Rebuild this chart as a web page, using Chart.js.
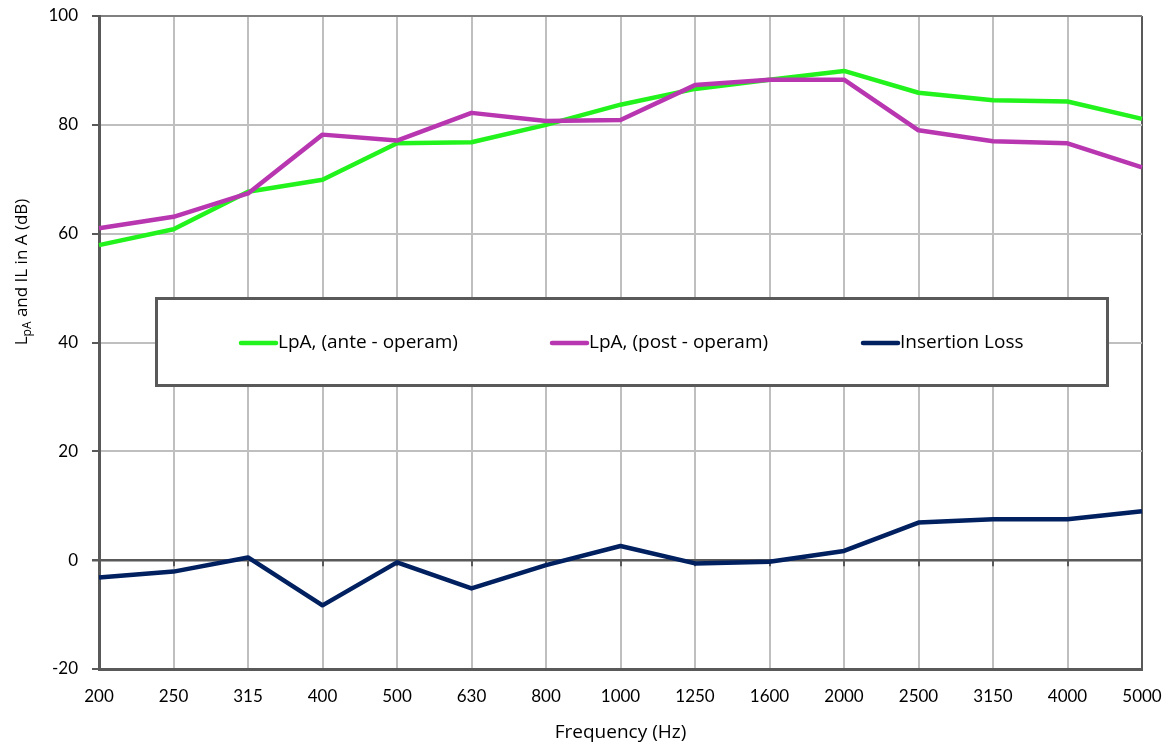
<!DOCTYPE html>
<html>
<head>
<meta charset="utf-8">
<script src="https://cdn.jsdelivr.net/npm/chart.js@4"></script>
<style>
  html, body { margin: 0; padding: 0; background: #fff; }
  #wrap { position: relative; width: 1172px; height: 748px; }
</style>
</head>
<body>
<div id="wrap"><canvas id="chart"></canvas></div>
<script>
// Data
const frequencies = ['200', '250', '315', '400', '500', '630', '800', '1000', '1250', '1600', '2000', '2500', '3150', '4000', '5000'];
const anteOperam = [57.9, 60.8, 67.7, 69.9, 76.6, 76.8, 80.0, 83.7, 86.6, 88.3, 89.9, 85.9, 84.5, 84.3, 81.1];
const postOperam = [61.0, 63.1, 67.4, 78.2, 77.1, 82.2, 80.7, 80.9, 87.3, 88.3, 88.3, 79.0, 77.0, 76.6, 72.2];
const insertionLoss = [-3.2, -2.1, 0.5, -8.3, -0.4, -5.2, -0.9, 2.6, -0.6, -0.3, 1.7, 6.9, 7.5, 7.5, 9.0];
const seriesNames = ['LpA, (ante - operam)', 'LpA, (post - operam)', 'Insertion Loss'];
const yMin = -20, yMax = 100, yStep = 20;

// Colours
const green = '#22F31C';
const magenta = '#B936B1';
const navy = '#002060';
const axisGray = '#595959';
const gridGray = '#BFBFBF';
const tickFont = 'Lato, "Open Sans", sans-serif';
const textFont = '"Open Sans", Lato, sans-serif';

// zero line tick marks, legend box, rotated y title with subscript
const extras = {
    id: 'extras',
    beforeDatasetsDraw(chart) {
        const ctx = chart.ctx;
        const x = chart.scales.x, y = chart.scales.y;
        const y0 = y.getPixelForValue(0);
        ctx.save();
        ctx.strokeStyle = axisGray;
        ctx.lineWidth = 2;
        x.ticks.forEach((t, i) => {
            const px = Math.round(x.getPixelForTick(i));
            ctx.beginPath();
            ctx.moveTo(px, y0);
            ctx.lineTo(px, y0 + 6);
            ctx.stroke();
        });
        ctx.restore();
    },
    afterDatasetsDraw(chart) {
        const ctx = chart.ctx;
        ctx.save();
        // legend box
        ctx.fillStyle = '#fff';
        ctx.fillRect(156, 298, 951, 87);
        ctx.strokeStyle = axisGray;
        ctx.lineWidth = 3;
        ctx.strokeRect(156.5, 298.5, 951, 87);
        const cy = 343;
        chart.data.datasets.forEach((ds, i) => {
            const x0 = 241 + i * 311;
            ctx.strokeStyle = ds.borderColor;
            ctx.lineWidth = 4.5;
            ctx.lineCap = 'round';
            ctx.beginPath();
            ctx.moveTo(x0, cy);
            ctx.lineTo(x0 + 35, cy);
            ctx.stroke();
            ctx.fillStyle = '#000';
            ctx.font = '19px ' + textFont;
            ctx.textAlign = 'left';
            ctx.textBaseline = 'middle';
            ctx.fillText(ds.label, x0 + 37, cy);
        });
        ctx.restore();
    },
    afterDraw(chart) {
        const ctx = chart.ctx;
        ctx.save();
        const big = '17px ' + textFont;
        const small = '12px ' + textFont;
        ctx.font = big;
        const wL = ctx.measureText('L').width;
        const rest = ' and IL in A (dB)';
        const wRest = ctx.measureText(rest).width;
        ctx.font = small;
        const wSub = ctx.measureText('pA').width;
        const total = wL + wSub + wRest;
        ctx.translate(27, 272 + total / 2);
        ctx.rotate(-Math.PI / 2);
        ctx.fillStyle = '#000';
        ctx.textAlign = 'left';
        ctx.textBaseline = 'alphabetic';
        ctx.font = big;
        ctx.fillText('L', 0, 0);
        ctx.font = small;
        ctx.fillText('pA', wL, 4);
        ctx.font = big;
        ctx.fillText(rest, wL + wSub, 0);
        ctx.restore();
    }
};

const ctx = document.getElementById('chart').getContext('2d');
const chart = new Chart(ctx, {
    type: 'line',
    data: {
        labels: frequencies,
        datasets: [
            { label: seriesNames[0], data: anteOperam, borderColor: green, order: 2 },
            { label: seriesNames[1], data: postOperam, borderColor: magenta, order: 1 },
            { label: seriesNames[2], data: insertionLoss, borderColor: navy, order: 0 }
        ]
    },
    options: {
        responsive: true,
        maintainAspectRatio: false,
        animation: false,
        layout: { padding: { top: 16, right: 30, left: 0, bottom: 0 } },
        elements: {
            line: { borderWidth: 4.5, tension: 0, fill: false, borderJoinStyle: 'round' },
            point: { radius: 0, hoverRadius: 0 }
        },
        plugins: {
            legend: { display: false },
            tooltip: { enabled: false }
        },
        scales: {
            x: {
                offset: false,
                afterFit(scale) {
                    scale.height = 79;
                    scale.paddingLeft = 0;
                    scale.paddingRight = 0;
                },
                grid: {
                    drawTicks: false,
                    lineWidth: 2,
                    color: c => c.index === frequencies.length - 1 ? axisGray : gridGray
                },
                border: { color: axisGray, width: 3 },
                ticks: {
                    color: '#000',
                    padding: 17,
                    maxRotation: 0,
                    autoSkip: false,
                    font: { family: tickFont, size: 17 }
                },
                title: {
                    display: true,
                    text: 'Frequency (Hz)',
                    color: '#000',
                    padding: { top: 0, bottom: 4 },
                    font: { family: textFont, size: 19 }
                }
            },
            y: {
                min: yMin,
                max: yMax,
                afterFit(scale) {
                    scale.width = 99;
                    scale.paddingTop = 0;
                    scale.paddingBottom = 0;
                },
                grid: {
                    drawTicks: true,
                    tickLength: 7,
                    tickColor: axisGray,
                    lineWidth: c => c.tick && c.tick.value === 0 ? 2.5 : 2,
                    color: c => {
                        if (!c.tick) return gridGray;
                        if (c.tick.value === 0) return axisGray;
                        if (c.tick.value === yMax) return '#808080';
                        return gridGray;
                    }
                },
                border: { color: axisGray, width: 3 },
                ticks: {
                    stepSize: yStep,
                    color: '#000',
                    padding: 14,
                    font: { family: tickFont, size: 17 }
                }
            }
        }
    },
    plugins: [extras]
});
</script>
</body>
</html>
